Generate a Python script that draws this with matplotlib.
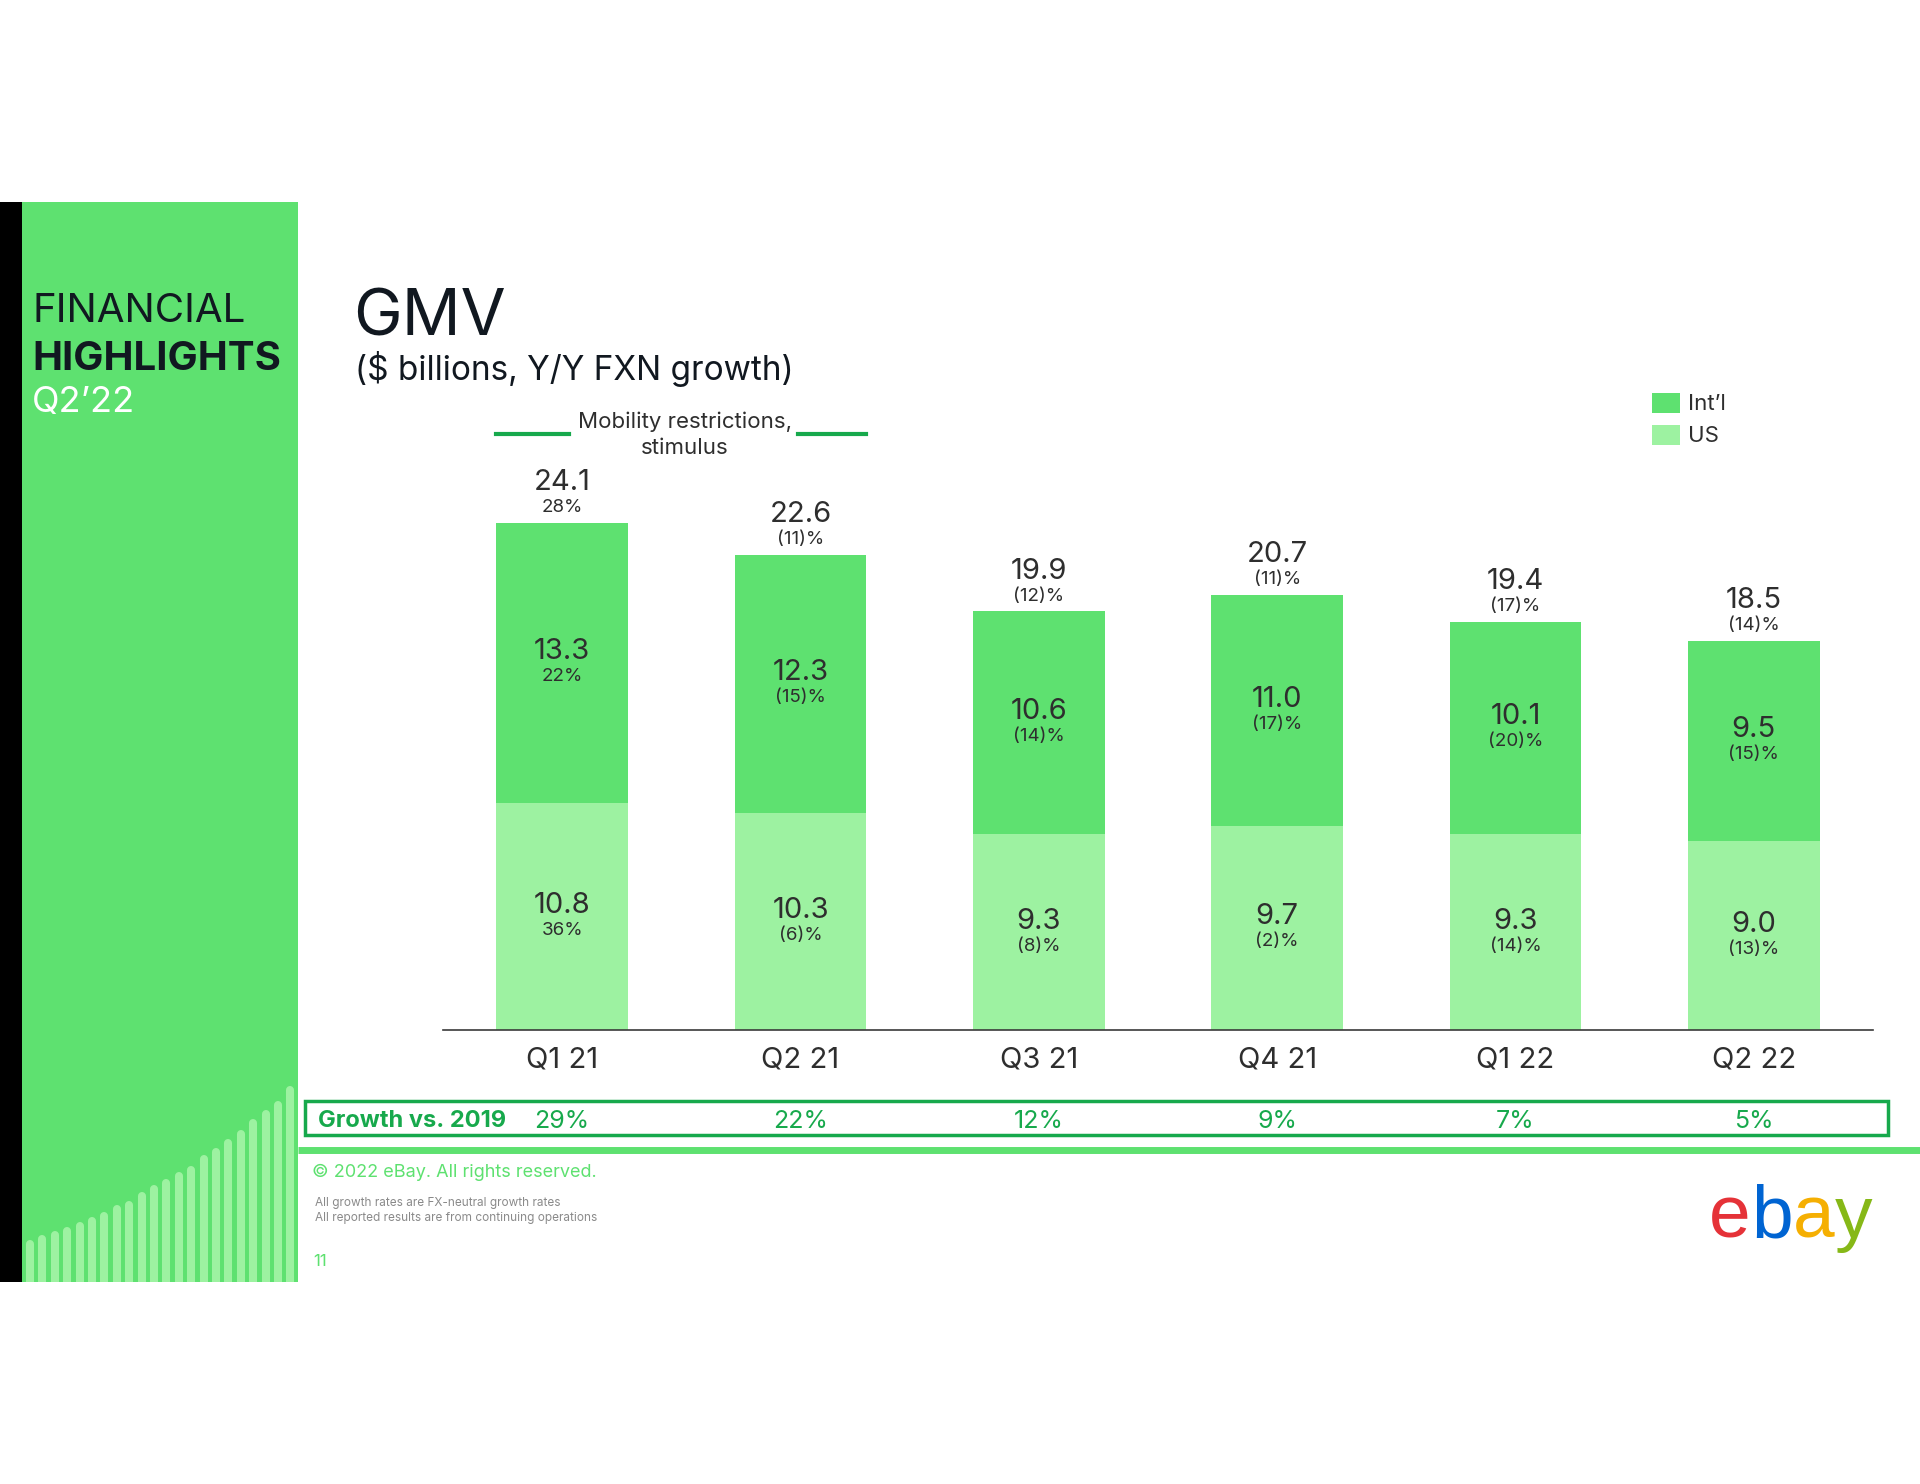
"""eBay Q2'22 GMV slide: stacked US / Int'l bars with Y/Y growth labels."""

import matplotlib.pyplot as plt
from matplotlib.collections import LineCollection
from matplotlib.patches import Rectangle

plt.rcParams["font.family"] = ["Inter", "DejaVu Sans"]

# --- data ------------------------------------------------------------------

quarters = ["Q1 21", "Q2 21", "Q3 21", "Q4 21", "Q1 22", "Q2 22"]
us_gmv = [10.8, 10.3, 9.3, 9.7, 9.3, 9.0]
intl_gmv = [13.3, 12.3, 10.6, 11.0, 10.1, 9.5]
total_gmv = [24.1, 22.6, 19.9, 20.7, 19.4, 18.5]
us_growth = ["36%", "(6)%", "(8)%", "(2)%", "(14)%", "(13)%"]
intl_growth = ["22%", "(15)%", "(14)%", "(17)%", "(20)%", "(15)%"]
total_growth = ["28%", "(11)%", "(12)%", "(11)%", "(17)%", "(14)%"]
growth_vs_2019 = ["29%", "22%", "12%", "9%", "7%", "5%"]

# decorative rising bars in the side panel (pixel heights)
deco_heights = [42, 47, 51, 55, 60, 65, 70, 77, 81, 90, 97, 103,
                110, 116, 127, 134, 143, 152, 163, 172, 181, 196]

# --- style -----------------------------------------------------------------

GREEN = "#5EE170"
LIGHT = "#9DF2A1"
DARK_GREEN = "#17A94C"
TEXT = "#2E2E2E"
INK = "#111820"

W, H = 1920, 1484
fig = plt.figure(figsize=(W / 100, H / 100), dpi=100)
fig.patch.set_facecolor("white")

# background axes in pixel coordinates for the slide furniture
bg = fig.add_axes([0, 0, 1, 1])
bg.set_xlim(0, W)
bg.set_ylim(H, 0)
bg.axis("off")

bg.add_patch(Rectangle((0, 202), 22, 1080, color="black", lw=0))
panel = Rectangle((22, 202), 276, 1080, color=GREEN, lw=0)
bg.add_patch(panel)

# rising bars at the bottom of the panel
segs = [[(30 + i * 12.4, 1290), (30 + i * 12.4, 1282 - h + 4)]
        for i, h in enumerate(deco_heights)]
lc = LineCollection(segs, colors=LIGHT, linewidths=5.8, capstyle="round")
bg.add_collection(lc)
lc.set_clip_path(panel)

bg.text(32, 312, "FINANCIAL", fontsize=29, color=INK, va="center", ha="left")
bg.text(32, 360, "HIGHLIGHTS", fontsize=29, color=INK, va="center", ha="left",
        fontweight="bold")
bg.text(32, 403, "Q2\u201922", fontsize=26, color="white", va="center", ha="left")

bg.text(353, 318, "GMV", fontsize=47, color=INK, va="center", ha="left")
bg.text(355, 369, "($ billions, Y/Y FXN growth)", fontsize=24, color=INK,
        va="center", ha="left")

# annotation above the first two bars
bg.plot([496, 569], [434, 434], color=DARK_GREEN, lw=3)
bg.plot([798, 866], [434, 434], color=DARK_GREEN, lw=3)
bg.text(685, 422, "Mobility restrictions,", fontsize=16, color=TEXT,
        ha="center", va="center")
bg.text(685, 448, "stimulus", fontsize=16, color=TEXT, ha="center", va="center")

# legend
bg.add_patch(Rectangle((1652, 393), 28, 20, color=GREEN, lw=0))
bg.add_patch(Rectangle((1652, 425), 28, 20, color=LIGHT, lw=0))
bg.text(1688, 404, "Int\u2019l", fontsize=16, color=TEXT, va="center")
bg.text(1688, 436, "US", fontsize=16, color=TEXT, va="center")

# growth vs 2019 box and footer
bg.add_patch(Rectangle((305, 1101), 1583, 34, fill=False,
                       edgecolor=DARK_GREEN, lw=2.5))
bg.text(318, 1121, "Growth vs. 2019", fontsize=17, color=DARK_GREEN,
        fontweight="bold", va="center", ha="left")
bg.plot([298, W], [1150, 1150], color=GREEN, lw=5, solid_capstyle="butt")
bg.text(312, 1172, "\u00a9 2022 eBay. All rights reserved.", fontsize=13,
        color=GREEN, va="center")
bg.text(315, 1203, "All growth rates are FX-neutral growth rates", fontsize=8.5,
        color="#8A8A8A", va="center")
bg.text(315, 1218, "All reported results are from continuing operations",
        fontsize=8.5, color="#8A8A8A", va="center")
bg.text(313, 1261, "11", fontsize=12, color=GREEN, va="center")

# ebay wordmark, one letter per colour
for x, ch, col in [(1709, "e", "#E53238"), (1751, "b", "#0064D2"),
                   (1793, "a", "#F5AF02"), (1835, "y", "#86B817")]:
    bg.text(x, 1238, ch, fontsize=54, color=col, ha="left", va="baseline",
            family="Liberation Sans")

# --- chart -----------------------------------------------------------------

ax = fig.add_axes([443 / W, 1 - 1030 / H, 1430 / W, 547 / H])
x = list(range(len(quarters)))
ax.bar(x, us_gmv, width=0.553, color=LIGHT, lw=0)
ax.bar(x, intl_gmv, width=0.553, bottom=us_gmv, color=GREEN, lw=0)
ax.set_xlim(-0.5, 5.5)
ax.set_ylim(0, 26)
for side in ["top", "right", "left"]:
    ax.spines[side].set_visible(False)
ax.spines["bottom"].set_color("#3A3A3A")
ax.spines["bottom"].set_linewidth(1.2)
ax.set_yticks([])
ax.set_xticks(x)
ax.set_xticklabels(quarters, fontsize=21, color=TEXT)
ax.tick_params(axis="x", length=0, pad=12)


def pair(xi, y, value, pct, dy_val, dy_pct):
    ax.annotate(value, (xi, y), xytext=(0, dy_val), textcoords="offset points",
                ha="center", va="center", fontsize=21, color=TEXT)
    ax.annotate(pct, (xi, y), xytext=(0, dy_pct), textcoords="offset points",
                ha="center", va="center", fontsize=13.5, color=TEXT)


for i in x:
    pair(i, total_gmv[i], f"{total_gmv[i]:.1f}", total_growth[i], 29, 11)
    pair(i, us_gmv[i] + intl_gmv[i] / 2, f"{intl_gmv[i]:.1f}", intl_growth[i], 8, -10)
    pair(i, us_gmv[i] / 2, f"{us_gmv[i]:.1f}", us_growth[i], 8, -10)
    ax.annotate(growth_vs_2019[i], (i, 0), xycoords="data",
                xytext=(0, -66), textcoords="offset points",
                ha="center", va="center", fontsize=18, color=DARK_GREEN,
                annotation_clip=False)

fig.savefig("out.png", dpi=100, facecolor="white")
